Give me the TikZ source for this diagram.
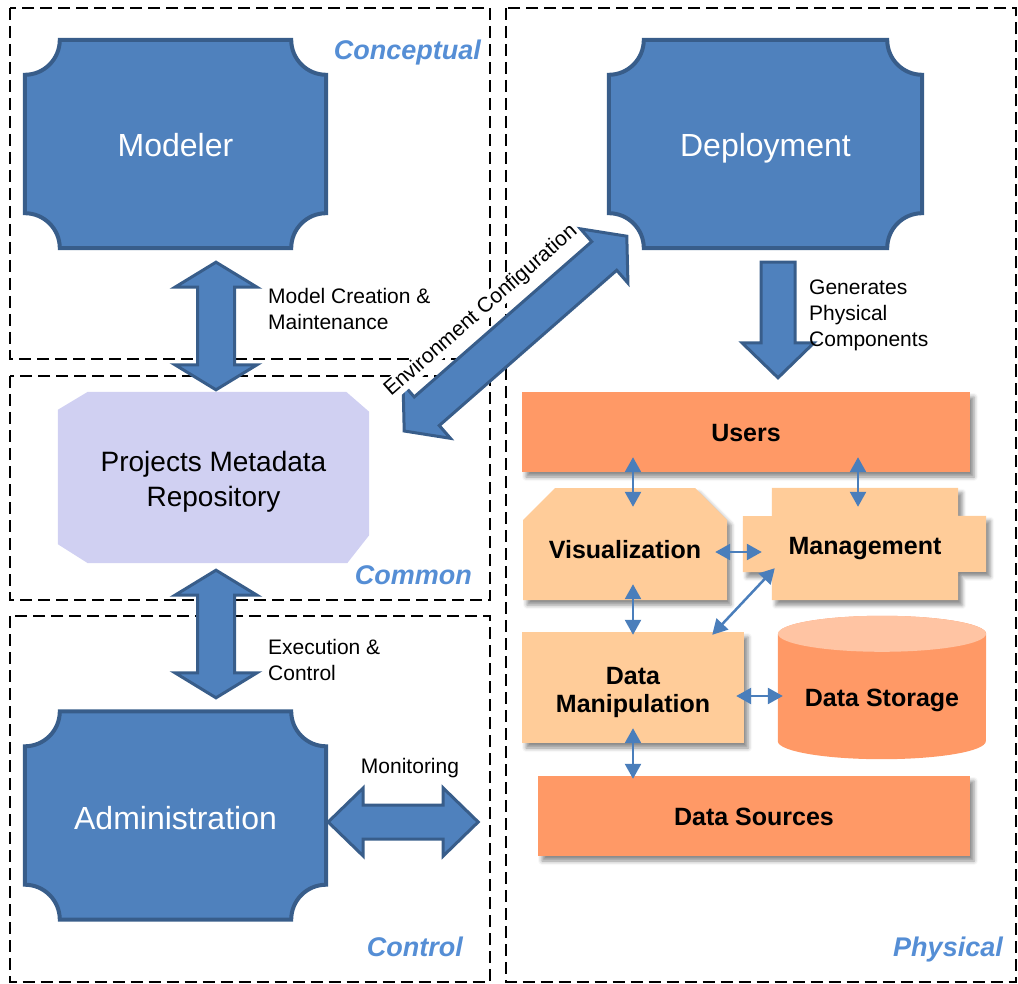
\documentclass[tikz,border=0pt]{standalone}
\usepackage{fontspec}
\setmainfont{Liberation Sans}
\usetikzlibrary{arrows.meta,calc,shapes.misc,shadows.blur}
\definecolor{plaqueblue}{HTML}{4F81BD}
\definecolor{plaqueedge}{HTML}{385D8A}
\definecolor{linkblue}{HTML}{4A7EBB}
\definecolor{layerblue}{HTML}{558ED5}
\definecolor{darkorange}{HTML}{FF9966}
\definecolor{lightorange}{HTML}{FFCC99}
\definecolor{toporange}{HTML}{FFC4A3}
\definecolor{lavender}{HTML}{D0D0F2}

\newcommand{\plaque}[1]{%
  \filldraw[plaqueline] ([xshift=35pt]#1.north west) -- ([xshift=-35pt]#1.north east)
    arc[start angle=180,end angle=270,radius=35pt] -- ([yshift=35pt]#1.south east)
    arc[start angle=90,end angle=180,radius=35pt] -- ([xshift=35pt]#1.south west)
    arc[start angle=0,end angle=90,radius=35pt] -- ([yshift=-35pt]#1.north west)
    arc[start angle=270,end angle=360,radius=35pt] -- cycle;}
\newcommand{\fatdouble}[5]{%
  \filldraw[fatarrow] (#1)
    -- ($(#1)!#3!(#2)!#4!90:(#2)$) -- ($(#1)!#3!(#2)!#5!90:(#2)$)
    -- ($(#2)!#3!(#1)!#5!-90:(#1)$) -- ($(#2)!#3!(#1)!#4!-90:(#1)$)
    -- (#2)
    -- ($(#2)!#3!(#1)!#4!90:(#1)$) -- ($(#2)!#3!(#1)!#5!90:(#1)$)
    -- ($(#1)!#3!(#2)!#5!-90:(#2)$) -- ($(#1)!#3!(#2)!#4!-90:(#2)$) -- cycle;}
\newcommand{\fatsingle}[5]{%
  \filldraw[fatarrow] ($(#1)!#5!90:(#2)$)
    -- ($(#2)!#3!(#1)!#5!-90:(#1)$) -- ($(#2)!#3!(#1)!#4!-90:(#1)$)
    -- (#2)
    -- ($(#2)!#3!(#1)!#4!90:(#1)$) -- ($(#2)!#3!(#1)!#5!90:(#1)$)
    -- ($(#1)!#5!-90:(#2)$) -- cycle;}

\begin{document}
\begin{tikzpicture}[x=1pt,y=-1pt,
    frame/.style={draw,line width=2pt,dash pattern=on 12pt off 6pt},
    plaquebox/.style={minimum width=301pt,minimum height=208pt,inner sep=0pt},
    plaquetext/.style={text=white,inner sep=0pt,text height=23pt,text depth=0pt,font=\fontsize{32}{38}\selectfont},
    plaqueline/.style={fill=plaqueblue,draw=plaqueedge,line width=4pt},
    fatarrow/.style={fill=plaqueblue,draw=plaqueedge,line width=3pt,line join=miter},
    lbl/.style={align=left,inner sep=0pt,font=\fontsize{21}{26}\selectfont},
    layer/.style={text=layerblue,inner sep=0pt,anchor=base east,font=\fontsize{27}{32}\selectfont\bfseries\itshape},
    compfont/.style={inner sep=0pt,align=center,font=\fontsize{25}{28}\selectfont\bfseries},
    oneline/.style={text height=18pt,text depth=0pt},
    softshadow/.style={blur shadow={shadow xshift=4pt,shadow yshift=-5pt,shadow blur radius=4pt,shadow opacity=45}},
    comp/.style={compfont,softshadow},
    link/.style={draw=linkblue,line width=2.5pt,{Triangle[length=15pt,width=16pt]}-{Triangle[length=15pt,width=16pt]}}]
    \useasboundingbox (0,0) rectangle (1018,984);
    \draw[frame] (10,8) rectangle (490,359);
    \draw[frame] (10,376) rectangle (490,600);
    \draw[frame] (10,616) rectangle (490,981.5);
    \draw[frame] (506,8) rectangle (1015.5,981.5);
    \node[plaquebox] (modeler) at (175.5,144) {};
    \plaque{modeler}
    \node[plaquetext] (modelertext) at ($(modeler)+(0,1)$) {Modeler};
    \node[plaquebox,minimum width=313pt] (deploy) at (765.5,144) {};
    \plaque{deploy}
    \node[plaquetext] (deploytext) at ($(deploy)+(0,1)$) {Deployment};
    \node[plaquebox] (admin) at (175.5,815.5) {};
    \plaque{admin}
    \node[plaquetext] (admintext) at ($(admin)+(0,2.5)$) {Administration};
    \node[minimum width=311pt,minimum height=171pt,inner sep=0pt] (repo) at (213.5,477.5) {};
    \fill[lavender] ($(repo.north west)+(30,0)$) -- ($(repo.north east)+(-23,0)$) -- ($(repo.north east)+(0,20)$)
      -- ($(repo.south east)+(0,-28)$) -- ($(repo.south east)+(-22,0)$) -- ($(repo.south west)+(30,0)$)
      -- ($(repo.south west)+(0,-19)$) -- ($(repo.north west)+(0,18)$) -- cycle;
    \node[align=center,inner sep=0pt,font=\fontsize{28}{35}\selectfont] (repotext) at ($(repo)+(0,4.5)$) {Projects Metadata\\Repository};
    \node[comp,oneline,fill=darkorange,minimum width=448pt,minimum height=80pt] (users) at (746,432) {Users};
    \node[comp,chamfered rectangle,chamfered rectangle corners={north west,north east},chamfered rectangle sep=18pt,fill=lightorange,minimum width=204pt,minimum height=112pt,text height=28pt,text depth=0pt] (vis) at (625,544) {Visualization};
    \node[minimum width=186pt,minimum height=112pt,inner sep=0pt] (mgmt) at (865,544) {};
    \fill[lightorange,softshadow] (mgmt.north west) -- (mgmt.north east) -- ++(0,28) -- ++(28,0) -- ++(0,56) -- ++(-28,0)
      -- (mgmt.south east) -- (mgmt.south west) -- ++(0,-28) -- ++(-29,0) -- ++(0,-56) -- ++(29,0) -- cycle;
    \node[compfont,oneline] (mgmttext) at ($(mgmt)+(0,1)$) {Management};
    \node[comp,fill=lightorange,minimum width=222pt,minimum height=111pt] (dm) at (633,687.5) {};
    \node[compfont] (dmtext) at ($(dm)+(0,4.5)$) {Data\\Manipulation};
    \node[minimum width=208pt,minimum height=143pt,inner sep=0pt] (ds) at (882,687.5) {};
    \fill[darkorange] ($(ds.north west)+(0,18)$) -- ($(ds.south west)+(0,-18)$) arc[start angle=180,end angle=360,x radius=104pt,y radius=18pt]
      -- ($(ds.north east)+(0,18)$) arc[start angle=0,end angle=180,x radius=104pt,y radius=18pt] -- cycle;
    \fill[toporange] ($(ds.north)+(0,18)$) ellipse[x radius=104pt,y radius=18pt];
    \node[compfont,oneline] (dstext) at ($(ds)+(0,9.5)$) {Data Storage};
    \node[comp,oneline,fill=darkorange,minimum width=432pt,minimum height=80pt] (dsrc) at (754,816) {Data Sources};
    \coordinate (mr1) at ($(modeler.south -| repo.north)+(2.5,14)$);
    \coordinate (mr2) at ($(repo.north)+(2.5,-2)$);
    \fatdouble{mr1}{mr2}{25pt}{41pt}{18.5pt}
    \coordinate (ra1) at ($(repo.south)+(2.5,7)$);
    \coordinate (ra2) at ($(admin.north -| ra1)+(0,-13.5)$);
    \fatdouble{ra1}{ra2}{25pt}{41pt}{18.5pt}
    \coordinate (mo1) at ($(admin.east)+(2,6.5)$);
    \coordinate (mo2) at ($(mo1)+(150,0)$);
    \fatdouble{mo1}{mo2}{35pt}{34pt}{17pt}
    \coordinate (en1) at ($(repo.east)+(35,-46.5)$);
    \coordinate (en2) at ($(deploy.south west)+(18,-12)$);
    \fatdouble{en1}{en2}{30pt}{36pt}{19pt}
    \coordinate (ge1) at ($(deploy.south)+(12.5,14)$);
    \coordinate (ge2) at ($(users.north)+(32,-14)$);
    \fatsingle{ge1}{ge2}{35pt}{36pt}{17pt}
    \node[lbl,anchor=west] (mclbl) at (268,309) {Model Creation \&\\Maintenance};
    \node[lbl,anchor=west] (eclbl) at (268,660) {Execution \&\\Control};
    \node[lbl] (molbl) at (410,768) {Monitoring};
    \node[lbl,anchor=west] (gelbl) at (809,315) {Generates\\Physical\\Components};
    \node[lbl,fill=white,inner sep=1pt,rotate=41.2] (enlbl) at (481,311) {Environment Configuration};
    \node[layer] (conlbl) at (481,59.5) {Conceptual};
    \node[layer] (comlbl) at (472,584.5) {Common};
    \node[layer] (ctllbl) at (463,956.5) {Control};
    \node[layer] (phylbl) at (1003,956.5) {Physical};
    \draw[link,shorten <=-15pt,shorten >=-19pt] (users.south -| dm.north) -- (vis.north -| dm.north);
    \draw[link,shorten <=-15pt,shorten >=-19pt] ($(users.south -| mgmt.north)+(-7,0)$) -- ($(mgmt.north)+(-7,0)$);
    \draw[link,shorten <=-12pt,shorten >=10pt] ($(vis.east)+(0,8)$) -- ($(vis.east -| mgmt.west)+(0,8)$);
    \draw[link,shorten <=-16pt,shorten >=-3pt] (vis.south -| dm.north) -- (dm.north);
    \draw[link] ($(mgmt.south west)+(3,-32)$) -- ($(dm.north east)+(-32,3)$);
    \draw[link,shorten <=-8pt,shorten >=-5pt] ($(dm.east)+(0,8.5)$) -- ($(dm.east -| ds.west)+(0,8.5)$);
    \draw[link,shorten <=-15pt,shorten >=-3pt] (dm.south) -- (dm.south |- dsrc.north);
\end{tikzpicture}
\end{document}
